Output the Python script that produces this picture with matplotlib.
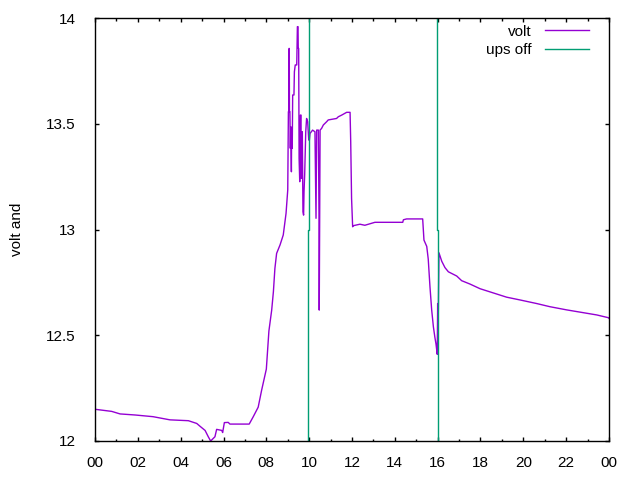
import numpy as np
import matplotlib
matplotlib.use('Agg')
import matplotlib.pyplot as plt
from matplotlib.ticker import MultipleLocator, FixedLocator

##-- data (hour of day, volts) --##
volt_hour = [0.00, 0.40, 0.78, 1.17, 1.87, 2.71, 3.50, 4.36, 4.75, 4.90,
             5.14, 5.29, 5.40, 5.50, 5.60, 5.68, 5.92, 5.96, 6.04, 6.22,
             6.30, 7.20, 7.39, 7.62, 7.78, 8.00, 8.12, 8.25, 8.33, 8.40,
             8.48, 8.64, 8.79, 8.92, 9.00, 9.03, 9.05, 9.06, 9.07, 9.08,
             9.10, 9.12, 9.14, 9.17, 9.18, 9.21, 9.23, 9.29, 9.31, 9.35,
             9.42, 9.45, 9.48, 9.49, 9.51, 9.53, 9.56, 9.59, 9.62, 9.63,
             9.67, 9.68, 9.71, 9.74, 9.76, 9.79, 9.84, 9.88, 9.93, 9.98,
             10.01, 10.04, 10.16, 10.27, 10.32, 10.35, 10.43, 10.46, 10.47, 10.51,
             10.58, 10.66, 10.82, 10.89, 11.28, 11.36, 11.52, 11.75, 11.91, 11.94,
             11.98, 12.03, 12.06, 12.37, 12.60, 13.07, 14.37, 14.40, 14.55, 15.30,
             15.36, 15.49, 15.56, 15.64, 15.72, 15.80, 15.87, 15.92, 15.98, 16.00,
             16.01, 16.06, 16.19, 16.34, 16.50, 16.58, 16.89, 17.12, 17.51, 17.98,
             18.60, 19.22, 19.84, 20.62, 21.24, 22.02, 22.80, 23.43, 23.97, 24.00]
volt = [12.150, 12.145, 12.140, 12.128, 12.123, 12.115, 12.100, 12.096, 12.083, 12.070,
        12.050, 12.020, 12.000, 12.010, 12.020, 12.055, 12.050, 12.040, 12.087, 12.088,
        12.080, 12.080, 12.115, 12.160, 12.240, 12.340, 12.520, 12.619, 12.706, 12.816,
        12.887, 12.927, 12.974, 13.076, 13.187, 13.557, 13.557, 13.856, 13.856, 13.557,
        13.557, 13.384, 13.486, 13.273, 13.447, 13.384, 13.636, 13.636, 13.746, 13.778,
        13.778, 13.959, 13.959, 13.856, 13.856, 13.336, 13.226, 13.541, 13.541, 13.242,
        13.384, 13.462, 13.084, 13.068, 13.179, 13.258, 13.462, 13.525, 13.510, 13.423,
        13.423, 13.454, 13.470, 13.462, 13.053, 13.470, 13.470, 13.053, 12.619, 13.470,
        13.478, 13.494, 13.510, 13.518, 13.525, 13.533, 13.541, 13.554, 13.554, 13.415,
        13.147, 13.013, 13.018, 13.025, 13.020, 13.034, 13.034, 13.046, 13.050, 13.050,
        12.950, 12.920, 12.860, 12.730, 12.620, 12.540, 12.490, 12.460, 12.410, 12.650,
        12.410, 12.890, 12.850, 12.820, 12.800, 12.796, 12.780, 12.758, 12.742, 12.720,
        12.700, 12.680, 12.667, 12.650, 12.635, 12.620, 12.607, 12.596, 12.583, 12.580]

#-- ups off flag: goes high just before 10h, back low just after 16h --#
ups_hour = [9.00, 9.96, 9.96, 10.00, 10.00, 15.98, 15.98, 16.02, 16.02, 17.00]
ups_off = [0, 0, 13, 13, 20, 20, 13, 13, 0, 0]

x_ticks = list(range(0, 25, 2))
x_labels = ['%02d' % (h % 24) for h in x_ticks]
y_ticks = [12, 12.5, 13, 13.5, 14]
y_labels = ['12', '12.5', '13', '13.5', '14']

plt.rcParams['font.family'] = ['Liberation Sans', 'DejaVu Sans']
plt.rcParams['font.size'] = 11

fig = plt.figure(figsize=(6.4, 4.8), dpi=100)
ax = fig.add_axes([95/640, 1-441/480, 514/640, 423/480])

ax.plot(volt_hour, volt, color='#9400d3', lw=1, label='volt')
ax.plot(ups_hour, ups_off, color='#009e73', lw=1, label='ups off')

ax.set_xlim(0, 24)
ax.set_ylim(12, 14)
ax.xaxis.set_major_locator(FixedLocator(x_ticks))
ax.set_xticklabels(x_labels)
ax.xaxis.set_minor_locator(MultipleLocator(1))
ax.set_yticks(y_ticks)
ax.set_yticklabels(y_labels)

#-- gnuplot style: small inward ticks mirrored on all sides --#
ax.tick_params(which='both', direction='in', top=True, right=True, width=1, color='black')
ax.tick_params(which='major', length=3.2)
ax.tick_params(which='minor', length=1.8)
ax.tick_params(axis='x', pad=11)
ax.tick_params(axis='y', pad=14)
for s in ax.spines.values():
    s.set_linewidth(1)

ax.set_ylabel('volt and', labelpad=16)

ax.legend(loc='upper right', bbox_to_anchor=(0.9617, 0.984), frameon=False,
          markerfirst=False, handlelength=2.9, handletextpad=0.87,
          labelspacing=0.3, borderpad=0, borderaxespad=0)

fig.savefig('out.png', dpi=100)
